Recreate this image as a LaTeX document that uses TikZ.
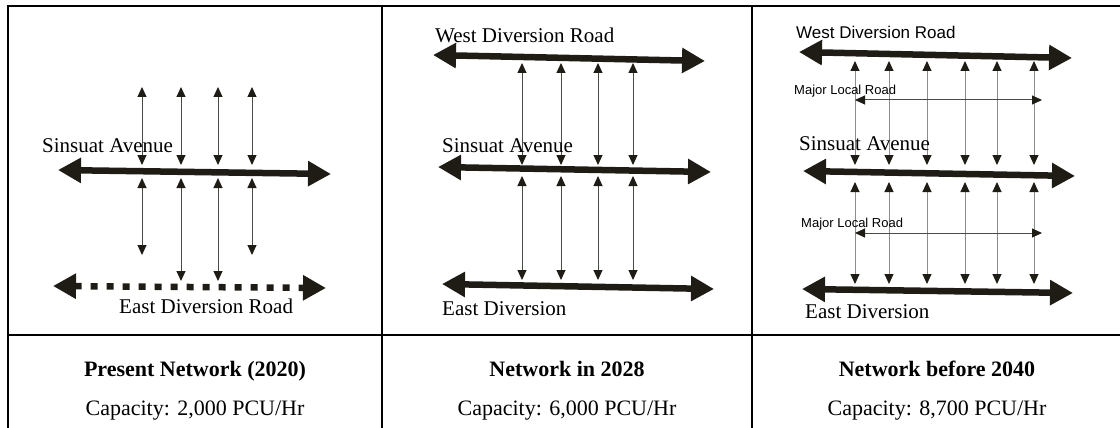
\documentclass[tikz,border=0pt]{standalone}
\usepackage{fontspec}
\setmainfont{Liberation Serif}
\newfontfamily\arialfont{Liberation Sans}
\usepackage{tikz}
\usetikzlibrary{arrows.meta, positioning}
\definecolor{roadcolor}{RGB}{30, 28, 20}
\definecolor{linkcolor}{RGB}{75, 75, 70}
\definecolor{locallinkcolor}{RGB}{140, 140, 140}

\begin{document}
\begin{tikzpicture}[
    x=1pt, y=-1pt,
    road/.style={line width=6.5pt, draw=roadcolor,
        {Triangle[length=23pt, width=24pt]}-{Triangle[length=23pt, width=24pt]}},
    dashroad/.style={road, dash pattern=on 7pt off 9pt},
    link/.style={line width=1pt, draw=linkcolor,
        {Triangle[length=10pt, width=9pt, color=roadcolor]}-{Triangle[length=10pt, width=9pt, color=roadcolor]}},
    locallink/.style={link, draw=locallinkcolor},
    roadname/.style={font=\fontsize{21}{25}\selectfont, anchor=base west, inner sep=0pt},
    sansname/.style={font=\arialfont\fontsize{17}{20}\selectfont, anchor=base west, inner sep=0pt},
    localname/.style={font=\arialfont\fontsize{13}{15}\selectfont, anchor=base west, inner sep=0pt},
    caption/.style={font=\fontsize{22}{26}\selectfont, anchor=base, inner sep=0pt}
]
    \useasboundingbox (0,0) rectangle (1120,428);

    % Table frame
    \draw[line width=2pt] (1121,6) -- (8,6) -- (8,428);
    \draw[line width=2pt] (382,6) -- (382,428);
    \draw[line width=2pt] (752,6) -- (752,428);
    \draw[line width=2pt] (8,335) -- (1121,335);

    % Present network (2020)
    \coordinate (sa1w) at (58,170);
    \coordinate (sa1e) at (331,174);
    \coordinate (ed1w) at (53,286);
    \coordinate (ed1e) at (326,288);
    \foreach \x/\low in {142/255, 181/281, 218/281, 252/255} {
        \path (\x,87) coordinate (top) (\x,165) coordinate (mid1)
              (\x,178) coordinate (mid2) (\x,\low) coordinate (bot);
        \draw[link] (top) -- (mid1);
        \draw[link] (mid2) -- (bot);
    }
    \draw[road] (sa1w) -- (sa1e);
    \draw[dashroad] (ed1w) -- (ed1e);
    \node[roadname] (sa1) at (42,152) {Sinsuat Avenue};
    \node[roadname] (ed1) at (119,313) {East Diversion Road};

    % Network in 2028
    \coordinate (wd2w) at (433,55);
    \coordinate (wd2e) at (705,61);
    \coordinate (sa2w) at (438,167);
    \coordinate (sa2e) at (711,172);
    \coordinate (ed2w) at (442,284);
    \coordinate (ed2e) at (714,289);
    \foreach \x in {522, 561, 598, 633} {
        \path (\x,63) coordinate (top) (\x,165) coordinate (mid1)
              (\x,176) coordinate (mid2) (\x,280) coordinate (bot);
        \draw[link] (top) -- (mid1);
        \draw[link] (mid2) -- (bot);
    }
    \draw[road] (wd2w) -- (wd2e);
    \draw[road] (sa2w) -- (sa2e);
    \draw[road] (ed2w) -- (ed2e);
    \node[roadname] (wd2) at (435,43) {West Diversion Road};
    \node[roadname] (sa2) at (442,152) {Sinsuat Avenue};
    \node[roadname] (ed2) at (442,315) {East Diversion};

    % Network before 2040
    \coordinate (wd3w) at (799,52);
    \coordinate (wd3e) at (1072,58);
    \coordinate (sa3w) at (803,171);
    \coordinate (sa3e) at (1075,176);
    \coordinate (ed3w) at (802,289);
    \coordinate (ed3e) at (1073,293);
    \coordinate (ml3aw) at (855,100);
    \coordinate (ml3ae) at (1042,100);
    \coordinate (ml3bw) at (855,233);
    \coordinate (ml3be) at (1042,233);
    \foreach \x in {855, 889, 927, 965, 997, 1034} {
        \path (\x,61) coordinate (top) (\x,165) coordinate (mid1)
              (\x,182) coordinate (mid2) (\x,284) coordinate (bot);
        \draw[locallink] (top) -- (mid1);
        \draw[locallink] (mid2) -- (bot);
    }
    \draw[link] (ml3aw) -- (ml3ae);
    \draw[link] (ml3bw) -- (ml3be);
    \draw[road] (wd3w) -- (wd3e);
    \draw[road] (sa3w) -- (sa3e);
    \draw[road] (ed3w) -- (ed3e);
    \node[sansname] (wd3) at (796,39) {West Diversion Road};
    \node[localname] (ml3a) at (794,95) {Major Local Road};
    \node[roadname] (sa3) at (799,150) {Sinsuat Avenue};
    \node[localname] (ml3b) at (801,227) {Major Local Road};
    \node[roadname] (ed3) at (805,318) {East Diversion};

    % Captions
    \node[caption, font=\fontsize{22}{26}\selectfont\bfseries] (t1) at (195,376) {Present Network (2020)};
    \node[caption] (c1) at (195,415) {Capacity: 2,000 PCU/Hr};
    \node[caption, font=\fontsize{22}{26}\selectfont\bfseries] (t2) at (567,376) {Network in 2028};
    \node[caption] (c2) at (567,415) {Capacity: 6,000 PCU/Hr};
    \node[caption, font=\fontsize{22}{26}\selectfont\bfseries] (t3) at (937,376) {Network before 2040};
    \node[caption] (c3) at (937,415) {Capacity: 8,700 PCU/Hr};

\end{tikzpicture}
\end{document}
